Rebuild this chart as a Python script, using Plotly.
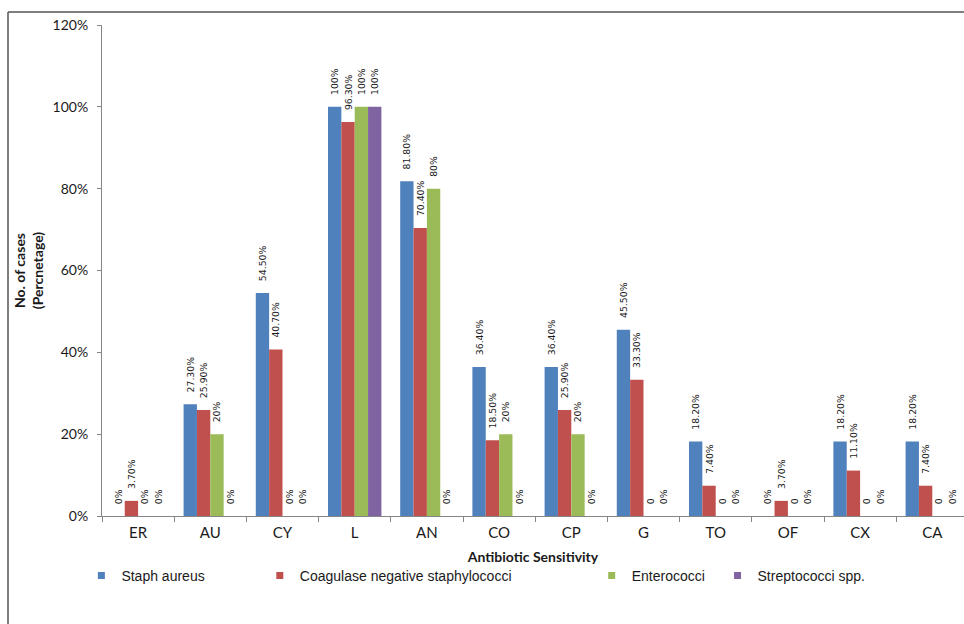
import plotly.graph_objects as go

# Antibiotic sensitivity (% of isolates sensitive) per organism group
antibiotics = ["ER", "AU", "CY", "L", "AN", "CO", "CP", "G", "TO", "OF", "CX", "CA"]

staph_aureus = [0, 27.3, 54.5, 100, 81.8, 36.4, 36.4, 45.5, 18.2, 0, 18.2, 18.2]
coagulase_neg_staph = [3.7, 25.9, 40.7, 96.3, 70.4, 18.5, 25.9, 33.3, 7.4, 3.7, 11.1, 7.4]
enterococci = [0, 20, 0, 100, 80, 20, 20, 0, 0, 0, 0, 0]
streptococci = [0, 0, 0, 100, 0, 0, 0, 0, 0, 0, 0, 0]

# zero entries that are labelled without a percent sign
bare_zero_labels = {"Enterococci": ["G", "TO", "OF", "CX", "CA"]}

y_ticks = [0, 20, 40, 60, 80, 100, 120]
y_tick_text = [f"{v}%" for v in y_ticks]

series = [
    ("Staph aureus", staph_aureus, "#4F81BD"),
    ("Coagulase negative staphylococci", coagulase_neg_staph, "#C0504D"),
    ("Enterococci", enterococci, "#9BBB59"),
    ("Streptococci spp.", streptococci, "#8064A2"),
]

# legend anchor (paper x) for each series
legend_x = [-0.010, 0.197, 0.582, 0.728]

W, H = 964, 624
M_L, M_R, M_T, M_B = 102, 0, 25, 108
PLOT_W = W - M_L - M_R
PLOT_H = H - M_T - M_B

PAD = "\u00a0\u00a0\u00a0"


def label(name, cat, v):
    if v == 0 and cat in bare_zero_labels.get(name, []):
        return PAD + "0"
    if float(v).is_integer():
        return PAD + f"{int(v)}%"
    return PAD + f"{v:.2f}%"


fig = go.Figure()

for i, (name, vals, color) in enumerate(series):
    fig.add_trace(go.Bar(
        x=antibiotics,
        y=vals,
        name=name,
        marker=dict(color=color, line=dict(width=0)),
        text=[label(name, c, v) for c, v in zip(antibiotics, vals)],
        textposition="outside",
        textangle=-90,
        constraintext="none",
        cliponaxis=False,
        textfont=dict(family="DejaVu Sans", size=9.3, color="#1a1a1a"),
        showlegend=False,
        hoverinfo="skip",
    ))
    # square legend key
    legend_id = "legend" if i == 0 else f"legend{i + 1}"
    fig.add_trace(go.Scatter(
        x=[None], y=[None],
        mode="markers",
        name=name,
        marker=dict(symbol="square", size=7, color=color),
        legend=legend_id,
        showlegend=True,
    ))

legend_common = dict(
    orientation="h",
    yanchor="middle",
    y=(H - M_B - 576) / PLOT_H,
    xanchor="left",
    font=dict(family="Liberation Sans, Arial", size=14, color="#1a1a1a"),
    bgcolor="rgba(0,0,0,0)",
    borderwidth=0,
    itemwidth=30,
    indentation=-12,
)

layout_legends = {}
for i in range(len(series)):
    key = "legend" if i == 0 else f"legend{i + 1}"
    layout_legends[key] = dict(legend_common, x=legend_x[i])

axis_grey = "#868686"

fig.update_layout(
    width=W,
    height=H,
    margin=dict(l=M_L, r=M_R, t=M_T, b=M_B, autoexpand=False),
    paper_bgcolor="white",
    plot_bgcolor="white",
    barmode="group",
    bargap=0.26,
    bargroupgap=0,
    xaxis=dict(
        type="category",
        range=[-0.5, -0.5 + PLOT_W / 72.2],
        showline=True,
        linecolor=axis_grey,
        linewidth=1,
        ticks="outside",
        tickson="boundaries",
        ticklen=5,
        tickcolor=axis_grey,
        tickfont=dict(family="Lato", size=15, color="#1a1a1a"),
        ticklabelstandoff=3,
        showgrid=False,
        zeroline=False,
        title=dict(
            text="Antibiotic Sensitivity",
            font=dict(family="Lato", size=14, color="#1a1a1a", weight="bold"),
            standoff=12,
        ),
    ),
    yaxis=dict(
        range=[0, 120],
        tickvals=y_ticks,
        ticktext=y_tick_text,
        showline=True,
        linecolor=axis_grey,
        linewidth=1,
        ticks="outside",
        ticklen=4,
        tickcolor=axis_grey,
        tickfont=dict(family="Lato", size=14, color="#1a1a1a"),
        ticklabelstandoff=6,
        showgrid=False,
        zeroline=False,
        title=dict(
            text="No. of cases<br>(Percnetage)",
            font=dict(family="Lato", size=14, color="#1a1a1a", weight="bold"),
            standoff=5,
        ),
    ),
    shapes=[
        # chart frame (top and left edges)
        dict(type="line", xref="paper", yref="paper",
             x0=(8 - M_L) / PLOT_W, x1=1.0,
             y0=(H - M_B - 12) / PLOT_H, y1=(H - M_B - 12) / PLOT_H,
             line=dict(color="#555555", width=1.5)),
        dict(type="line", xref="paper", yref="paper",
             x0=(8 - M_L) / PLOT_W, x1=(8 - M_L) / PLOT_W,
             y0=(H - M_B - 12) / PLOT_H, y1=(H - M_B - H) / PLOT_H,
             line=dict(color="#555555", width=1.5)),
    ],
    **layout_legends,
)

fig.write_html("out.html")
